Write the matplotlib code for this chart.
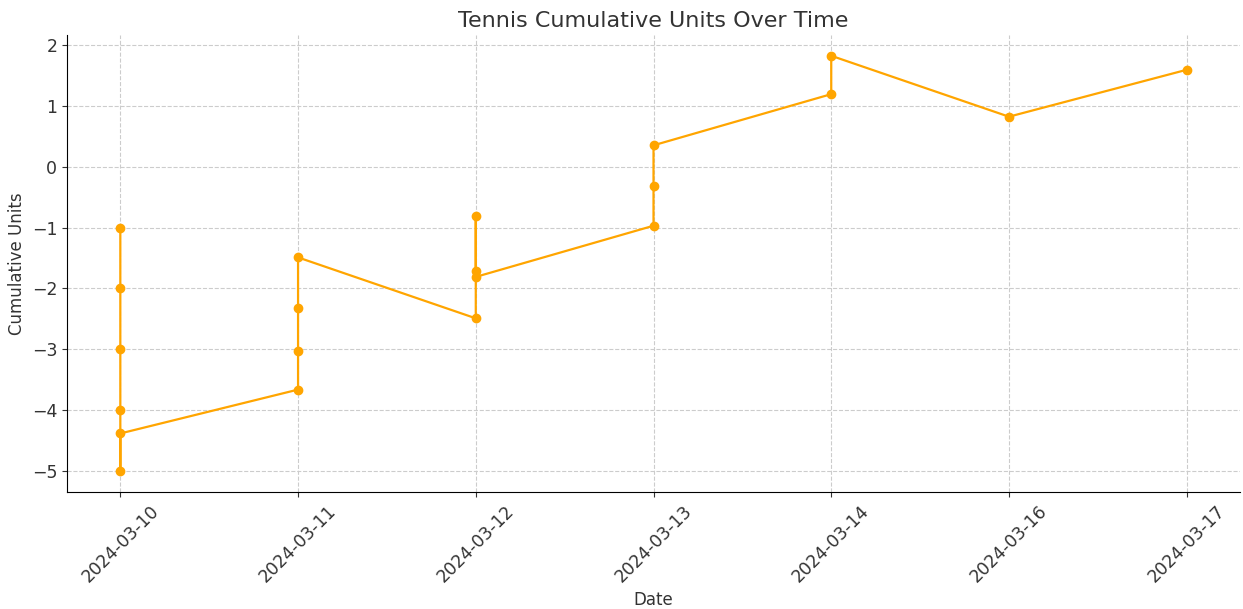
import matplotlib
matplotlib.use("Agg")
import matplotlib.pyplot as plt

dates = ["2024-03-10"] * 6 + ["2024-03-11"] * 4 + ["2024-03-12"] * 4 + \
        ["2024-03-13"] * 3 + ["2024-03-14"] * 2 + ["2024-03-16", "2024-03-17"]
cum_units = [-1, -2, -3, -4, -5, -4.38,
             -3.66, -3.03, -2.32, -1.49,
             -2.49, -1.72, -0.81, -1.81,
             -0.97, -0.31, 0.35,
             1.19, 1.82,
             0.82, 1.59]

plt.rcParams['font.family'] = ['DejaVu Sans']
text_color = '#333333'

fig = plt.figure(figsize=(12.43, 6.09), dpi=100)
ax = fig.add_axes([67 / 1243, 1 - 492 / 609, (1240 - 67) / 1243, (492 - 35) / 609])

ax.plot(dates, cum_units, marker='o', color='orange', linewidth=1.6, markersize=6)

ax.set_title("Tennis Cumulative Units Over Time", fontsize=16, color=text_color)
ax.set_xlabel("Date", fontsize=12, color=text_color)
ax.set_ylabel("Cumulative Units", fontsize=12, color=text_color)
ax.grid(True, linestyle='--', color='#cccccc', linewidth=0.8)
ax.spines['top'].set_visible(False)
ax.spines['right'].set_visible(False)
ax.tick_params(axis='x', labelrotation=45, labelsize=12.5, colors=text_color)
ax.tick_params(axis='y', labelsize=12.5, colors=text_color)
for lbl in ax.get_xticklabels():
    lbl.set_ha('center')
    lbl.set_rotation_mode('default')

fig.savefig("out.png", dpi=100)
